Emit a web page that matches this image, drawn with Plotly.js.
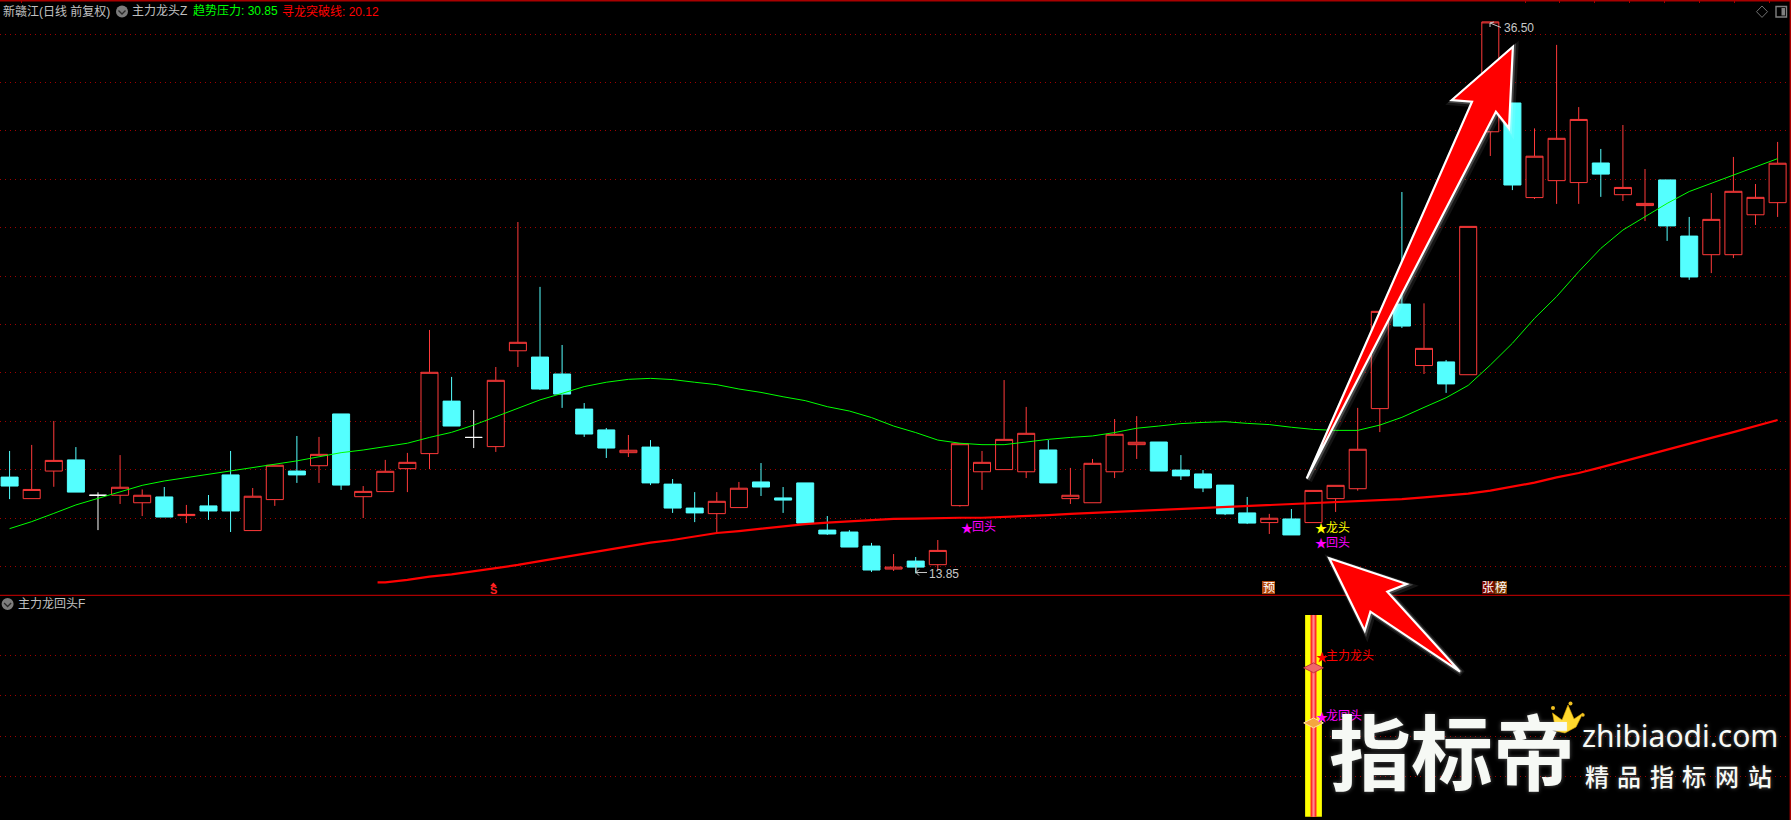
<!DOCTYPE html>
<html><head><meta charset="utf-8">
<script src="https://cdn.plot.ly/plotly-3.0.1.min.js"></script>
<style>html,body{margin:0;padding:0;background:#000}#c{width:1791px;height:820px}</style>
</head><body><div id="c"></div>
<script>
// Candles, index 0..80
const open_ = [17.69,16.80,17.94,18.40,16.94,16.94,16.63,16.87,16.10,16.50,17.78,15.48,16.76,17.94,18.16,20.30,16.88,17.09,18.04,18.66,20.83,19.33,18.95,22.91,22.65,21.95,20.50,
19.64,18.70,18.93,17.40,16.41,16.18,16.43,17.49,16.83,17.45,15.50,15.42,14.84,13.89,14.22,14.07,16.51,17.91,18.00,17.91,18.81,16.80,16.63,17.91,19.03,19.14,17.98,
17.82,17.36,16.21,15.81,15.96,15.81,16.80,17.21,20.52,24.84,22.30,22.45,21.92,31.96,33.15,29.24,29.94,29.86,30.67,29.36,28.91,29.97,27.65,26.88,26.88,28.53,29.03];
const high_ = [18.77,19.02,20.01,18.93,17.06,18.60,17.18,17.28,16.54,16.95,18.77,17.24,18.19,19.39,19.35,20.30,17.32,18.40,18.69,23.77,21.83,20.46,22.24,28.23,25.55,23.15,20.75,
19.72,19.43,19.22,17.61,17.07,17.07,17.49,18.27,17.28,17.45,16.08,15.50,14.97,14.51,14.39,15.09,19.07,18.77,21.70,20.59,19.22,18.07,18.44,20.09,20.21,19.14,18.60,
17.98,17.36,16.87,16.17,16.37,17.14,17.35,20.55,24.54,29.47,24.87,22.53,28.05,36.50,33.15,32.10,35.55,32.98,31.25,32.24,30.42,29.97,28.44,29.43,30.92,29.80,31.54];
const low_ = [16.78,16.80,17.29,17.07,15.50,16.58,16.08,16.04,15.79,15.92,15.42,15.48,16.50,17.45,17.45,17.16,16.00,17.09,17.07,18.02,19.80,18.89,18.73,22.24,21.29,20.55,19.35,
18.48,18.52,17.36,16.21,15.83,15.38,16.43,16.91,16.21,15.79,15.30,14.80,13.77,13.81,13.71,13.85,16.47,17.16,18.00,17.65,17.45,16.58,16.63,17.65,18.44,17.94,17.57,
17.07,16.12,15.75,15.34,15.30,15.81,16.25,17.13,19.55,23.85,21.95,21.17,21.92,30.96,29.55,29.18,28.98,28.98,29.27,29.10,28.27,27.45,25.84,26.12,26.74,28.11,28.44];
const close_ = [17.32,17.18,18.38,17.07,16.94,17.27,16.94,16.04,16.15,16.29,16.29,16.90,18.18,17.78,18.63,17.36,17.10,17.93,18.30,22.02,19.80,19.33,21.69,23.26,21.33,21.12,19.47,
18.89,18.80,17.45,16.41,16.21,16.69,17.23,17.28,16.74,15.79,15.34,14.80,13.85,13.97,13.97,14.66,19.07,18.30,19.25,19.50,17.45,16.94,18.26,19.46,19.13,17.94,17.74,
17.24,16.17,15.79,15.99,15.30,17.14,17.35,18.84,24.54,23.93,23.01,21.54,28.05,36.50,29.76,30.95,31.69,32.47,30.21,29.66,29.00,28.07,25.96,28.34,29.50,29.25,30.66];
const whiteDoji = [4,21];
// 趋势压力, one value per candle from index 0
const trendLine = [15.56,15.85,16.19,16.54,16.81,17.09,17.35,17.53,17.67,17.80,17.94,18.08,18.20,18.36,18.53,18.70,18.81,18.95,19.09,19.33,19.54,19.84,20.19,20.53,20.88,21.15,21.43,21.61,
21.73,21.77,21.72,21.61,21.51,21.33,21.19,21.01,20.85,20.60,20.42,20.15,19.80,19.53,19.22,19.09,19.03,19.03,19.15,19.25,19.33,19.39,19.53,19.71,19.80,19.90,19.95,
19.98,19.91,19.86,19.75,19.66,19.62,19.62,19.84,20.16,20.57,20.97,21.48,22.32,23.22,24.25,25.15,26.18,27.14,27.90,28.45,29.00,29.49,29.83,30.17,30.52,30.85];
// 寻龙突破线, starts between candle 16 and 17
const breakX0 = 16.65;
const breakLine = [13.34,13.34,13.44,13.58,13.67,13.80,13.91,14.06,14.22,14.37,14.54,14.68,
14.82,14.98,15.09,15.23,15.38,15.46,15.56,15.67,15.75,15.81,15.86,15.92,15.96,15.97,16.00,16.01,16.01,16.04,16.08,16.12,16.17,16.21,16.25,16.29,16.33,16.37,16.40,
16.45,16.50,16.54,16.58,16.62,16.65,16.67,16.73,16.78,16.85,16.92,17.01,17.13,17.28,17.46,17.68,17.86,18.09,18.34,18.59,18.84,19.07,19.31,19.55,19.80,20.05];
// Lower panel
const signalX = [59];
const signalY = [1];
const gemRed = [0.738];
const gemOrange = [0.465];
const lowerGrid = [0.2,0.4,0.6,0.8];
const sloganChars = ['精','品','指','标','网','站'];

const W=1791,H=820;
const px=x=>x/W, py=y=>1-y/H;
const path=(pts,close=true)=>'M '+pts.map(p=>px(p[0]).toFixed(5)+' '+py(p[1]).toFixed(5)).join(' L ')+(close?' Z':'');
const shp=(pts,o={})=>Object.assign({type:'path',xref:'paper',yref:'paper',path:path(pts,o.close!==false),layer:'above',line:{width:0}},o.s||{});
const rect=(x0,y0,x1,y1,fill,line)=>({type:'rect',xref:'paper',yref:'paper',x0:px(x0),x1:px(x1),y0:py(y0),y1:py(y1),fillcolor:fill,line:line||{width:0},layer:'above'});
const circ=(cx,cy,r,fill)=>({type:'circle',xref:'paper',yref:'paper',x0:px(cx-r),x1:px(cx+r),y0:py(cy+r),y1:py(cy-r),fillcolor:fill,line:{width:0},layer:'above'});
const FONT='"Liberation Sans","Noto Sans CJK SC",sans-serif';
const ann=(x,y,text,color,size,o={})=>Object.assign({xref:'paper',yref:'paper',x:px(x),y:py(y),text,showarrow:false,xanchor:'left',yanchor:'middle',
  font:Object.assign({family:FONT,size,color},o.font||{}),borderpad:0,borderwidth:0},o.a||{});
const starAnn=(cx,y,text,color)=>[
  ann(cx,y,'★',color,12,{a:{xanchor:'center'},font:{family:'"Noto Sans CJK SC"'}}),
  ann(cx+4.5,y,text,color,12)];

const idx=open_.map((_,i)=>i);
const normal=idx.filter(i=>!whiteDoji.includes(i));
const pick=(a,ids)=>ids.map(i=>a[i]);
const RED='#FF3A3A',CYAN='#54FFFF';

const traces=[
 {type:'candlestick',x:normal,open:pick(open_,normal),high:pick(high_,normal),low:pick(low_,normal),close:pick(close_,normal),whiskerwidth:0,
  increasing:{line:{color:RED,width:1},fillcolor:'#000000'},decreasing:{line:{color:CYAN,width:1},fillcolor:CYAN},hoverinfo:'skip',xaxis:'x',yaxis:'y'},
 {type:'candlestick',x:whiteDoji,open:pick(open_,whiteDoji),high:pick(high_,whiteDoji),low:pick(low_,whiteDoji),close:pick(close_,whiteDoji),whiskerwidth:0,
  increasing:{line:{color:'#FFFFFF',width:1},fillcolor:'#FFFFFF'},decreasing:{line:{color:'#FFFFFF',width:1},fillcolor:'#FFFFFF'},hoverinfo:'skip',xaxis:'x',yaxis:'y'},
 {type:'scatter',mode:'lines',x:idx,y:trendLine,line:{color:'#00FF00',width:1},hoverinfo:'skip',xaxis:'x',yaxis:'y'},
 {type:'scatter',mode:'lines',x:[breakX0].concat(breakLine.slice(1).map((_,k)=>17+k)),y:breakLine,line:{color:'#FF0000',width:2.2},hoverinfo:'skip',xaxis:'x',yaxis:'y'},
 {type:'bar',x:signalX,y:signalY,width:0.76,marker:{color:'#FFFF00',line:{width:0}},hoverinfo:'skip',xaxis:'x2',yaxis:'y2'},
 {type:'bar',x:signalX,y:signalY,width:0.27,marker:{color:'#FF2A2A',line:{width:0}},hoverinfo:'skip',xaxis:'x2',yaxis:'y2'},
 {type:'bar',x:signalX,y:signalY,width:0.1,marker:{color:'#FF8A8A',line:{width:0}},hoverinfo:'skip',xaxis:'x2',yaxis:'y2'},
 {type:'scatter',mode:'markers',x:signalX,y:gemRed,marker:{symbol:'diamond-wide',size:14,color:'#F0686A',line:{color:'#C03040',width:1}},hoverinfo:'skip',xaxis:'x2',yaxis:'y2'},
 {type:'scatter',mode:'markers',x:signalX,y:gemOrange,marker:{symbol:'diamond-wide',size:14,color:'#F4A640',line:{color:'#FFE0A0',width:1}},hoverinfo:'skip',xaxis:'x2',yaxis:'y2'}
];

const arrowUp=[[1306.7,478.5],[1472,101.7],[1451.8,100],[1512.9,46.7],[1509,128.3],[1495.9,111.7]];
const arrowDn=[[1329.3,558.3],[1406.6,584],[1387.3,591.7],[1460,671.7],[1370.4,611.7],[1364.7,630.7]];
const off=(pts,d)=>pts.map(p=>[p[0]+d,p[1]+d]);
const arrowShapes=a=>[
 shp(off(a,2),{s:{line:{color:'rgba(255,255,255,0.08)',width:7},fillcolor:'rgba(255,255,255,0.04)'}}),
 shp(off(a,1),{s:{line:{color:'rgba(255,255,255,0.2)',width:4},fillcolor:'rgba(0,0,0,0)'}}),
 shp(a,{s:{line:{color:'#FFFFFF',width:2.2},fillcolor:'#FF0000'}})
];
const chevron=(cx,cy)=>shp([[cx-3.5,cy-1],[cx,cy+2.5],[cx+3.5,cy-1]],{close:false,s:{line:{color:'#2A2A2A',width:1.3},fillcolor:'rgba(0,0,0,0)'}});
const thin=(pts,c)=>shp(pts,{close:false,s:{line:{color:c,width:1},fillcolor:'rgba(0,0,0,0)'}});

const shapes=[
 rect(0,0,W,1.6,'#A80000'),
 rect(0,594.7,W,596,'#A80000'),
 rect(1789.6,0,W,820,'#A80000'),
 ...[1525,1559,1594,1629,1664,1699,1734,1769].map(x=>rect(x,0,x+1,3,'#A80000')),
 rect(21,0,22,3,'#A80000'),
 circ(122,11.5,6,'#7C7C7C'),chevron(122,11.5),
 circ(7.6,604,6,'#7C7C7C'),chevron(7.6,604),
 shp([[1762,6],[1767.5,11.7],[1762,17.4],[1756.5,11.7]],{s:{line:{color:'#707070',width:1},fillcolor:'rgba(0,0,0,0)'}}),
 rect(1776,6.5,1786.5,17,'rgba(0,0,0,0)',{color:'#808080',width:1.4}),
 rect(1781.5,8,1785,15.5,'#808080'),
 // low and high pointers
 thin([[916,564],[916,572.5],[927,572.5]],'#C8C8C8'),
 thin([[919,569.5],[916,572.5],[919,575.5]],'#C8C8C8'),
 thin([[1490,23],[1501,27.5]],'#C8C8C8'),
 thin([[1490,27],[1490,23],[1494,22]],'#C8C8C8'),
 // tags
 rect(1262,581,1275,594,'#B24A0C'),
 rect(1482,581,1494.5,594,'#7A0A00'),
 rect(1494.5,581,1507,594,'#7E3A00'),
 shp([[493.4,582.5],[496.6,586],[490.2,586]],{s:{fillcolor:'#FF2020'}}),
 ...arrowShapes(arrowUp),...arrowShapes(arrowDn),
 // crown
 shp([[1556,731],[1552.5,713],[1562,720],[1568,705],[1574,719],[1583,713],[1576,727],[1565,733]],{s:{fillcolor:'#FFD92E',line:{color:'#E0A800',width:0.6}}}),
 circ(1553,708,2,'#F0C020'),circ(1570.5,703.5,2,'#F0C020'),circ(1583,715,1.7,'#F0C020')
];

const glow={shadow:'0 0 4px rgba(255,255,255,0.35)'};
const annotations=[
 ann(3,11,'新赣江 (日线 前复权)'.replace(' (','('),'#C0C0C0',12),
 ann(132,11,'主力龙头Z','#C0C0C0',12),
 ann(192.5,11,'趋势压力: 30.85','#00FF00',12),
 ann(282,11,'寻龙突破线: 20.12','#FF0000',12),
 ann(18,604,'主力龙回头F','#C0C0C0',12),
 ann(1504,27.5,'36.50','#C8C8C8',12),
 ann(929,574,'13.85','#C8C8C8',12),
 ...starAnn(967,527,'回头','#FF00FF'),
 ...starAnn(1321.3,527.5,'龙头','#FFFF00'),
 ...starAnn(1321.3,542.5,'回头','#FF00FF'),
 ...starAnn(1321.7,656,'主力龙头','#FF0000'),
 ...starAnn(1321.7,716,'龙回头','#FF00FF'),
 ann(1268.5,587.5,'预','#FFFFFF',12,{a:{xanchor:'center'}}),
 ann(1488.2,587.5,'张','#FFFFFF',12,{a:{xanchor:'center'}}),
 ann(1500.8,587.5,'榜','#FFFFFF',12,{a:{xanchor:'center'}}),
 ann(493.4,590,'S','#FF2020',11,{a:{xanchor:'center'},font:{weight:'bold'}}),
 ann(1452,748,'指标帝','#F6F9F5',82,{a:{xanchor:'center'},font:Object.assign({family:'"Noto Sans CJK SC"',weight:'bold'},glow)}),
 ann(1680,735,'zhibiaodi.com','#F6F9F5',30,{a:{xanchor:'center'},font:Object.assign({family:'"Noto Sans","DejaVu Sans"'},glow)}),
 ...sloganChars.map((c,k)=>ann(1596.5+32.6*k,775,c,'#F6F9F5',24,{a:{xanchor:'center'},font:Object.assign({family:'"Noto Sans CJK SC"',weight:500},glow)}))
];

const grid={showgrid:true,gridcolor:'#A00000',griddash:'1px,4px',gridwidth:1,zeroline:false,showline:false,showticklabels:false,ticks:''};
const xa={range:[-0.434,80.606],showgrid:false,zeroline:false,showline:false,showticklabels:false,ticks:'',rangeslider:{visible:false},fixedrange:true};
const layout={
 width:W,height:H,margin:{l:0,r:0,t:0,b:0,pad:0},paper_bgcolor:'#000',plot_bgcolor:'#000',showlegend:false,
 boxmode:'overlay',boxgap:0.23,boxgroupgap:0,barmode:'overlay',hovermode:false,
 xaxis:Object.assign({},xa,{domain:[0,1],anchor:'y'}),
 xaxis2:Object.assign({},xa,{domain:[0,1],anchor:'y2'}),
 yaxis:Object.assign({},grid,{domain:[1-595/H,1],range:[12.818,37.405],tick0:36,dtick:2,anchor:'x',fixedrange:true}),
 yaxis2:Object.assign({},grid,{domain:[0,1-597/H],range:[-0.0163,1.089],tickmode:'array',tickvals:lowerGrid,anchor:'x2',fixedrange:true}),
 shapes,annotations
};
Plotly.newPlot('c',traces,layout,{displayModeBar:false,staticPlot:true});
</script></body></html>
